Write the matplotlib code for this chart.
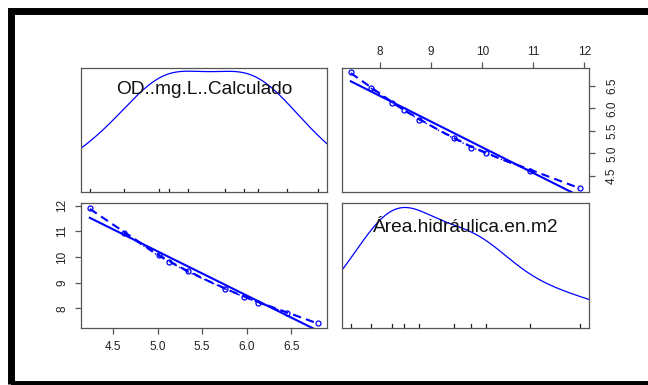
import numpy as np
import matplotlib.pyplot as plt
from matplotlib.patches import Rectangle
from matplotlib.transforms import blended_transform_factory

plt.rcParams['font.family'] = ['Liberation Sans', 'DejaVu Sans']

# observations
od = np.array([6.80, 6.45, 6.13, 5.97, 5.75, 5.34, 5.13, 5.01, 4.62, 4.24])
area = np.array([7.43, 7.82, 8.23, 8.46, 8.76, 9.44, 9.79, 10.07, 10.93, 11.91])

var_names = ["OD..mg.L..Calculado", "Área.hidráulica.en.m2"]
od_ticks = [4.5, 5.0, 5.5, 6.0, 6.5]
area_ticks = [8, 9, 10, 11, 12]

BLUE = "#0000ff"
FRAME = "#555555"


def padded(v):
    r = v.max() - v.min()
    return v.min() - 0.04 * r, v.max() + 0.04 * r


def local_fit(x, y, xs, span=2 / 3, degree=1):
    # loess-style local regression with tricube weights
    n = len(x)
    q = max(int(np.floor(span * n)), degree + 1)
    out = []
    for x0 in xs:
        d = np.abs(x - x0)
        h = np.sort(d)[min(q, n) - 1]
        if h <= 0:
            h = 1e-9
        w = np.clip(1 - (d / h) ** 3, 0, None) ** 3
        if degree == 0 or np.count_nonzero(w) < 2:
            out.append(np.sum(w * y) / max(np.sum(w), 1e-12))
        else:
            sw = np.sqrt(w)
            A = np.vstack([np.ones_like(x), x - x0]).T
            coef = np.linalg.lstsq(A * sw[:, None], y * sw, rcond=None)[0]
            out.append(coef[0])
    return np.array(out)


def bw_nrd0(v):
    iqr = np.subtract(*np.percentile(v, [75, 25]))
    return 0.9 * min(v.std(ddof=1), iqr / 1.34) * len(v) ** -0.2


def adaptive_density(v, grid):
    # pilot gaussian estimate, then per-point bandwidth factors
    bw = bw_nrd0(v)
    k = lambda z: np.exp(-0.5 * z ** 2) / np.sqrt(2 * np.pi)
    pilot = (k((v[:, None] - v[None, :]) / bw) / bw).mean(axis=1)
    g = np.exp(np.mean(np.log(pilot)))
    hs = bw * (pilot / g) ** -0.5
    return (k((grid[:, None] - v[None, :]) / hs[None, :]) / hs[None, :]).mean(axis=1)


def scatter_panel(ax, x, y):
    order = np.argsort(x)
    xs, ys = x[order], y[order]
    ax.plot(xs, ys, 'o', mfc='none', mec=BLUE, ms=3.6, mew=0.9)
    # least squares line over the range of x
    b, a = np.polyfit(x, y, 1)
    ax.plot([xs[0], xs[-1]], [a + b * xs[0], a + b * xs[-1]],
            color=BLUE, lw=1.5)
    # smooth and conditional spread
    grid = np.linspace(xs[0], xs[-1], 50)
    ax.plot(grid, local_fit(xs, ys, grid), color=BLUE, lw=1.5,
            ls=(0, (4, 2.5)))
    fit = local_fit(xs, ys, xs)
    res = ys - fit
    pos = res > 0
    for mask, sign in ((pos, 1), (~pos, -1)):
        # too few residuals on one side gives no usable spread estimate
        if mask.sum() >= 4:
            s2 = local_fit(xs[mask], res[mask] ** 2, xs[mask], degree=0)
            ax.plot(xs[mask], fit[mask] + sign * np.sqrt(np.abs(s2)),
                    color=BLUE, lw=1.0, ls=(0, (5, 2, 1, 2)))


def density_panel(ax, v, label, ty):
    bw = bw_nrd0(v)
    grid = np.linspace(v.min() - 3 * bw, v.max() + 3 * bw, 500)
    dens = adaptive_density(v, grid)
    dens_line = v.min() + dens * (v.max() - v.min()) / (dens.max() - dens.min())
    ax.plot(grid, dens_line, color=BLUE, lw=0.9)
    ax.set_ylim(*padded(v))
    tr = blended_transform_factory(ax.transData, ax.transAxes)
    for val in v:
        ax.plot([val, val], [0, 0.03], color='#222222', lw=0.9, transform=tr,
                clip_on=False)
    ax.text(0.5, ty, label, transform=ax.transAxes, ha='center', va='center',
            fontsize=13.8, color='#111111')
    ax.set_xticks([])
    ax.set_yticks([])


fig = plt.figure(figsize=(6.48, 3.85), dpi=100)

W, H = 648.0, 385.0
cols = [(80.7, 327.3), (341.7, 589.0)]
rows = [(67.7, 192.3), (203.3, 327.7)]


def make_ax(r, c):
    x0, x1 = cols[c]
    y0, y1 = rows[r]
    ax = fig.add_axes([x0 / W, 1 - y1 / H, (x1 - x0) / W, (y1 - y0) / H])
    for sp in ax.spines.values():
        sp.set_color(FRAME)
        sp.set_linewidth(0.9)
    return ax


ax_od = make_ax(0, 0)
ax_tr = make_ax(0, 1)
ax_bl = make_ax(1, 0)
ax_area = make_ax(1, 1)

for ax in (ax_od, ax_bl):
    ax.set_xlim(*padded(od))
for ax in (ax_tr, ax_area):
    ax.set_xlim(*padded(area))

density_panel(ax_od, od, var_names[0], 0.827)
density_panel(ax_area, area, var_names[1], 0.807)

scatter_panel(ax_tr, area, od)
ax_tr.set_ylim(*padded(od))
scatter_panel(ax_bl, od, area)
ax_bl.set_ylim(*padded(area))

tick_kw = dict(length=4.3, width=0.9, color=FRAME, labelsize=8.5,
               labelcolor='#222222')

ax_tr.xaxis.tick_top()
ax_tr.yaxis.tick_right()
ax_tr.set_xticks(area_ticks)
ax_tr.set_xticklabels([str(t) for t in area_ticks])
ax_tr.set_yticks(od_ticks)
ax_tr.set_yticklabels([f"{t:.1f}" for t in od_ticks], rotation=90,
                      va='center')
ax_tr.tick_params(axis='x', pad=2.5, **tick_kw)
ax_tr.tick_params(axis='y', pad=8, **tick_kw)

ax_bl.set_xticks(od_ticks)
ax_bl.set_xticklabels([f"{t:.1f}" for t in od_ticks])
ax_bl.set_yticks(area_ticks)
ax_bl.set_yticklabels([str(t) for t in area_ticks], rotation=90,
                      va='center')
ax_bl.tick_params(axis='x', pad=5, **tick_kw)
ax_bl.tick_params(axis='y', pad=4.5, **tick_kw)

# heavy outer border, open past the right edge
fig.patches.append(Rectangle((10.5 / W, 1 - 383.5 / H), (665 - 10.5) / W,
                             (383.5 - 10.5) / H, transform=fig.transFigure,
                             fill=False, ec='black', lw=5.0))

fig.savefig("out.png", dpi=100)
